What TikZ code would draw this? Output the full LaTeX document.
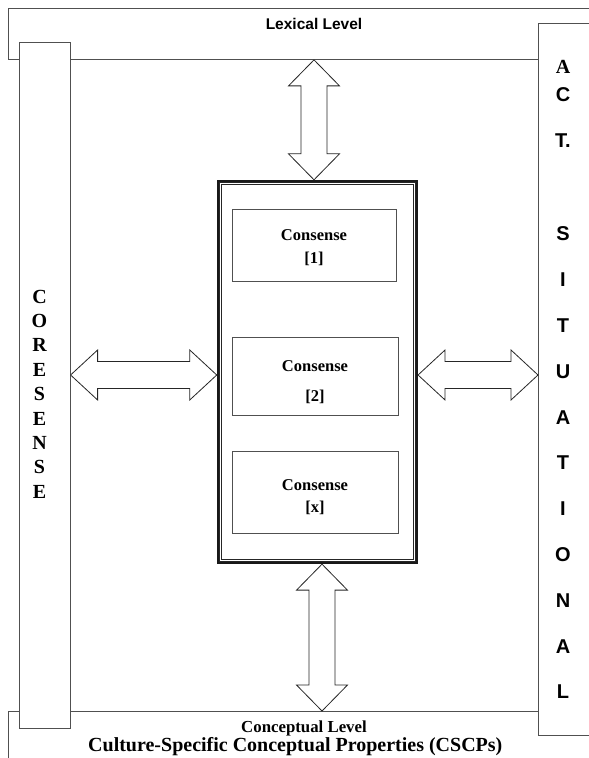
\documentclass[tikz,border=0pt]{standalone}
\usepackage{fontspec}
\setmainfont{Liberation Serif}
\setsansfont{Liberation Sans}
\usetikzlibrary{calc}
\definecolor{linegray}{HTML}{505050}
\tikzset{
  band/.style={draw=linegray, line width=0.9pt, fill=white, anchor=north west, inner sep=0pt},
  sidecol/.style={draw=linegray, line width=0.9pt, fill=white, anchor=north west, inner sep=0pt},
  consbox/.style={draw=linegray, line width=0.8pt, inner sep=0pt, align=center},
  blockarrow/.style={draw=black!85, line width=0.8pt, fill=white, line join=miter},
  serifletter/.style={font=\bfseries\fontsize{20}{22}\selectfont, inner sep=0pt},
  sansletter/.style={font=\sffamily\bfseries\fontsize{20}{22}\selectfont, inner sep=0pt},
}
% hollow two-headed arrows between two anchors
\newcommand{\harrow}[2]{
  \draw[blockarrow] let \p1=(#1), \p2=(#2) in (\x1,\y1) -- ++(27,25) -- ++(0,-11.5) -- (\x2-27,\y1+13.5) -- ++(0,11.5) -- (\x2,\y1) -- ++(-27,-25) -- ++(0,11.5) -- (\x1+27,\y1-13.5) -- ++(0,-11.5) -- cycle;
}
\newcommand{\varrow}[2]{
  \draw[blockarrow] let \p1=(#1), \p2=(#2) in (\x1,\y1) -- ++(25.5,-26) -- ++(-12.5,0) -- (\x1+13,\y2+26) -- ++(12.5,0) -- (\x1,\y2) -- ++(-25.5,26) -- ++(12.5,0) -- (\x1-13,\y1-26) -- ++(-12.5,0) -- cycle;
}

\begin{document}
\begin{tikzpicture}[x=1pt,y=1pt]
\useasboundingbox (0,0) rectangle (589,758);

% the two levels
\node[band, minimum width=640, minimum height=60] (conceptual) at (8,47) {};
\node[band, minimum width=640, minimum height=51] (lexical) at (8,750) {};
\node[anchor=base, font=\sffamily\bfseries\fontsize{15.5}{18}\selectfont] (lexlabel) at (314,728.7) {Lexical Level};
\node[anchor=base, font=\bfseries\fontsize{16.8}{19}\selectfont] (conclabel) at (304,25.7) {Conceptual Level};
\node[anchor=base, font=\bfseries\fontsize{20}{22}\selectfont] (cscplabel) at (295.3,6.3) {Culture-Specific Conceptual Properties (CSCPs)};

% side columns
\node[sidecol, minimum width=51, minimum height=685.7] (coresense) at (18.7,716) {};
\node[sidecol, minimum width=120, minimum height=712] (act) at (538,735) {};
\foreach \ch [count=\i] in {C,O,R,E,S,E,N,S,E}
  \node[serifletter] (core\i) at (39.5,{461.5-(\i-1)*24.4}) {\ch};
\node[serifletter] (actA) at (563,691.5) {A};
\node[sansletter] (actC) at (563,663) {C};
\node[sansletter] (actT) at (563,617.5) {T.};
\foreach \ch [count=\i] in {S,I,T,U,A,T,I,O,N,A,L}
  \node[sansletter] (sit\i) at (563,{524-(\i-1)*45.8}) {\ch};

% consense frame
\node[draw=black!90, line width=1.8pt, minimum width=199.5, minimum height=382.5, inner sep=0pt] (frame) at (317.4,386) {};
\foreach \d/\w in {2.8/0.9pt,5/0.7pt}
  \draw[black!85, line width=\w] ($(frame.south west)+(\d,\d)$) rectangle ($(frame.north east)-(\d,\d)$);
\node[consbox, minimum width=164, minimum height=72, font=\bfseries\fontsize{16.5}{23}\selectfont] (cons1) at (314,513) {\rule{0pt}{17pt}Consense\\{[1]}};
\node[consbox, minimum width=166, minimum height=78, font=\bfseries\fontsize{16.5}{30}\selectfont] (cons2) at (315,382) {\rule{0pt}{23pt}Consense\\{[2]}};
\node[consbox, minimum width=166, minimum height=82, font=\bfseries\fontsize{16.5}{22}\selectfont] (cons3) at (315,266) {\rule{0pt}{21pt}Consense\\{[x]}};

% arrows
\coordinate (midrow) at (0,383);
\coordinate (topcol) at (314,0);
\coordinate (botcol) at (322,0);
\harrow{coresense.east |- midrow}{frame.west |- midrow}
\harrow{frame.east |- midrow}{act.west |- midrow}
\varrow{lexical.south -| topcol}{frame.north -| topcol}
\varrow{frame.south -| botcol}{conceptual.north -| botcol}
\end{tikzpicture}
\end{document}
